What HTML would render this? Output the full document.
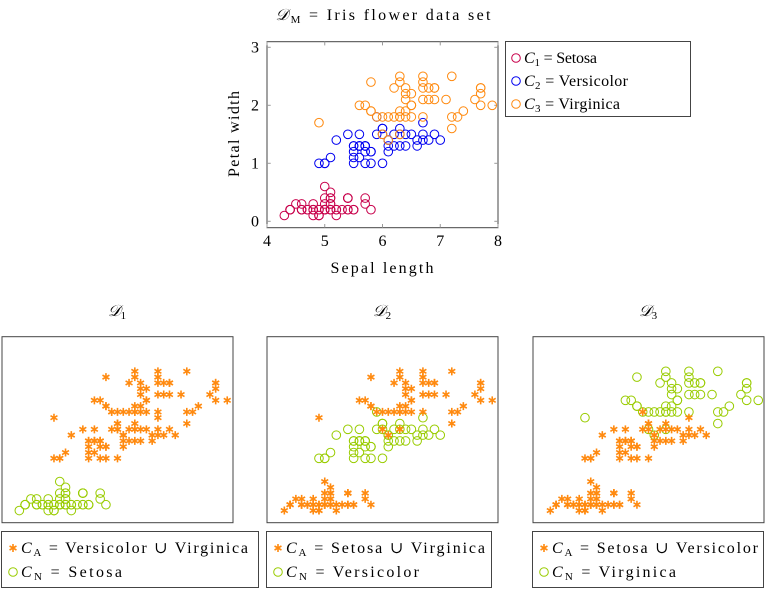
<!DOCTYPE html>
<html><head><meta charset="utf-8"><style>
body{margin:0;background:#fff;}
svg text{font-family:"Liberation Serif","DejaVu Serif",serif;fill:#000;}
</style></head><body>
<svg id="c" width="769" height="590" xmlns="http://www.w3.org/2000/svg"></svg>
<script>
const setosaSL=[5.1,4.9,4.7,4.6,5.0,5.4,4.6,5.0,4.4,4.9,5.4,4.8,4.8,4.3,5.8,5.7,5.4,5.1,5.7,5.1,5.4,5.1,4.6,5.1,4.8,5.0,5.0,5.2,5.2,4.7,4.8,5.4,5.2,5.5,4.9,5.0,5.5,4.9,4.4,5.1,5.0,4.5,4.4,5.0,5.1,4.8,5.1,4.6,5.3,5.0];
const setosaPW=[0.2,0.2,0.2,0.2,0.2,0.4,0.3,0.2,0.2,0.1,0.2,0.2,0.1,0.1,0.2,0.4,0.4,0.3,0.3,0.3,0.2,0.4,0.2,0.5,0.2,0.2,0.4,0.2,0.2,0.2,0.2,0.4,0.1,0.2,0.2,0.2,0.2,0.1,0.2,0.2,0.3,0.3,0.2,0.6,0.4,0.3,0.2,0.2,0.2,0.2];
const versiSL=[7.0,6.4,6.9,5.5,6.5,5.7,6.3,4.9,6.6,5.2,5.0,5.9,6.0,6.1,5.6,6.7,5.6,5.8,6.2,5.6,5.9,6.1,6.3,6.1,6.4,6.6,6.8,6.7,6.0,5.7,5.5,5.5,5.8,6.0,5.4,6.0,6.7,6.3,5.6,5.5,5.5,6.1,5.8,5.0,5.6,5.7,5.7,6.2,5.1,5.7];
const versiPW=[1.4,1.5,1.5,1.3,1.5,1.3,1.6,1.0,1.3,1.4,1.0,1.5,1.0,1.4,1.3,1.4,1.5,1.0,1.5,1.1,1.8,1.3,1.5,1.2,1.3,1.4,1.4,1.7,1.5,1.0,1.1,1.0,1.2,1.6,1.5,1.6,1.5,1.3,1.3,1.3,1.2,1.4,1.2,1.0,1.3,1.2,1.3,1.3,1.1,1.3];
const virgSL=[6.3,5.8,7.1,6.3,6.5,7.6,4.9,7.3,6.7,7.2,6.5,6.4,6.8,5.7,5.8,6.4,6.5,7.7,7.7,6.0,6.9,5.6,7.7,6.3,6.7,7.2,6.2,6.1,6.4,7.2,7.4,7.9,6.4,6.3,6.1,7.7,6.3,6.4,6.0,6.9,6.7,6.9,5.8,6.8,6.7,6.7,6.3,6.5,6.2,5.9];
const virgPW=[2.5,1.9,2.1,1.8,2.2,2.1,1.7,1.8,1.8,2.5,2.0,1.9,2.1,2.0,2.4,2.3,1.8,2.2,2.3,1.5,2.3,2.0,2.0,1.8,2.1,1.8,1.8,1.8,2.1,1.6,1.9,2.0,2.2,1.5,1.4,2.3,2.4,1.8,1.8,2.1,2.4,2.3,1.9,2.3,2.5,2.3,1.9,2.0,2.3,1.8];
const xTicks=[4,5,6,7,8];
const yTicks=[0,1,2,3];

const NS="http://www.w3.org/2000/svg";
const svg=document.getElementById('c');
function mk(tag,attrs,parent){const e=document.createElementNS(NS,tag);for(const k in attrs)e.setAttribute(k,attrs[k]);(parent||svg).appendChild(e);return e;}
const RED="#c8004b",BLUE="#0000f0",ORANGE="#ff8a10",GREEN="#99cc00";
function scales(x0){return{sx:v=>x0+(v-4)/4*231,sy:v=>221.3-v*58};}
function circle(g,cx,cy,col){const e=mk('circle',{cx:cx,cy:cy,r:4.3,fill:'none',stroke:col,'stroke-width':1},g);}
function star(g,cx,cy,col){const p=[];for(let i=0;i<3;i++){const a=Math.PI/2+i*Math.PI/3,r=4;p.push(`M${cx+r*Math.cos(a)},${cy+r*Math.sin(a)}L${cx-r*Math.cos(a)},${cy-r*Math.sin(a)}`);}const e=mk('path',{d:p.join(''),stroke:col,'stroke-width':1.6,fill:'none'},g);}
function text(t,x,y,attrs,parent){const e=mk('text',Object.assign({x:x,y:y,'font-size':16},attrs||{}),parent);e.innerHTML=t;return e;}

// main plot
(function(){
 const g=mk('g',{});
 const {sx,sy}=scales(267);
 text('<tspan font-style="italic">𝒟</tspan><tspan font-size="11" dy="3">M</tspan><tspan dy="-3"> = Iris flower data set</tspan>',383,20,{'text-anchor':'middle',textLength:215,lengthAdjust:'spacing'},g);
 mk('rect',{x:267,y:41.7,width:231,height:186,fill:'none',stroke:'#444','stroke-width':1},g);
 xTicks.forEach(t=>{const x=sx(t);mk('line',{x1:x,x2:x,y1:227.7,y2:224,stroke:'#999'},g);mk('line',{x1:x,x2:x,y1:41.7,y2:45.4,stroke:'#999'},g);const l=text(t,x,246,{'text-anchor':'middle'},g);});
 yTicks.forEach(t=>{const y=sy(t);mk('line',{x1:267,x2:270.7,y1:y,y2:y,stroke:'#999'},g);mk('line',{x1:498,x2:494.3,y1:y,y2:y,stroke:'#999'},g);const l=text(t,259,y+5,{'text-anchor':'end'},g);});
 text('Sepal length',382,273,{'text-anchor':'middle',textLength:103,lengthAdjust:'spacing'},g);
 text('Petal width',0,0,{'text-anchor':'middle',transform:'translate(239,134) rotate(-90)',textLength:86,lengthAdjust:'spacing'},g);
 setosaSL.forEach((v,i)=>circle(g,sx(v),sy(setosaPW[i]),RED));
 versiSL.forEach((v,i)=>circle(g,sx(v),sy(versiPW[i]),BLUE));
 virgSL.forEach((v,i)=>circle(g,sx(v),sy(virgPW[i]),ORANGE));
 const lg=mk('g',{});
 mk('rect',{x:505.5,y:41.5,width:185,height:75,fill:'#fff',stroke:'#444'},lg);
 [[RED,'1','Setosa',73],[BLUE,'2','Versicolor',104],[ORANGE,'3','Virginica',96]].forEach((e,i)=>{const y=58+i*23;circle(lg,516,y,e[0]);const t=text(`<tspan font-style="italic">C</tspan><tspan font-size="11" dy="3">${e[1]}</tspan><tspan dy="-3"> = ${e[2]}</tspan>`,524,y+5,{textLength:e[3],lengthAdjust:'spacing'},lg);});
})();

// small plots
function small(x0,title,anomSets,normSets,aLabel,nLabel,legW,aLen,nLen,name){
 const g=mk('g',{});
 const {sx}=scales(x0);const sy=v=>522.7-(v+0.11)*58;
 text(`<tspan font-style="italic">𝒟</tspan><tspan font-size="11" dy="3">${title}</tspan>`,x0+115,316,{'text-anchor':'middle'},g);
 mk('rect',{x:x0,y:336.7,width:231,height:186,fill:'none',stroke:'#444'},g);
 normSets.forEach(s=>s[0].forEach((v,i)=>circle(g,sx(v),sy(s[1][i]),GREEN)));
 anomSets.forEach(s=>s[0].forEach((v,i)=>star(g,sx(v),sy(s[1][i]),ORANGE)));
 const lg=mk('g',{});
 mk('rect',{x:x0-0.5,y:531.5,width:legW,height:56,fill:'#fff',stroke:'#444'},lg);
 star(lg,x0+11,548,ORANGE);
 text(`<tspan font-style="italic">C</tspan><tspan font-size="11" dy="3">A</tspan><tspan dy="-3"> = ${aLabel}</tspan>`,x0+19,553,{textLength:aLen,lengthAdjust:'spacing'},lg);
 circle(lg,x0+11,572,GREEN);
 text(`<tspan font-style="italic">C</tspan><tspan font-size="11" dy="3">N</tspan><tspan dy="-3"> = ${nLabel}</tspan>`,x0+19,577,{textLength:nLen,lengthAdjust:'spacing'},lg);
}
const S=[setosaSL,setosaPW],V=[versiSL,versiPW],G=[virgSL,virgPW];
small(2,'1',[V,G],[S],'Versicolor ∪ Virginica','Setosa',257,227,101,'subplot-d1');
small(267,'2',[S,G],[V],'Setosa ∪ Virginica','Versicolor',225,199,133,'subplot-d2');
small(533,'3',[S,V],[G],'Setosa ∪ Versicolor','Virginica',231,206,124,'subplot-d3');
</script>
</body></html>
